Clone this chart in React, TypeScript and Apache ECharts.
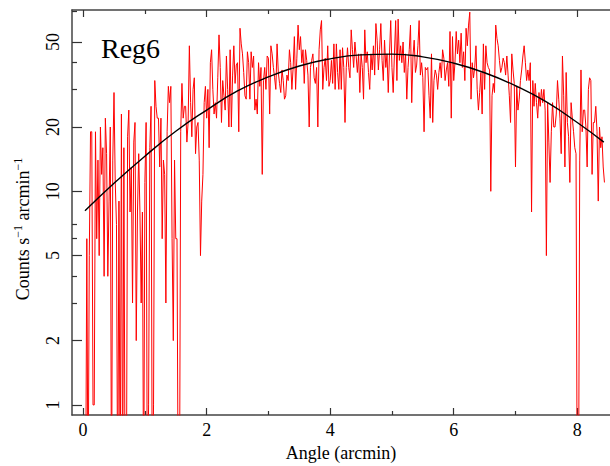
import React, { useEffect, useRef } from "react";
import * as echarts from "echarts";

// Radial profile: bin centres start at X_START and step by X_STEP (arcmin)
const X_START = 0.04;
const X_STEP = 0.02;
// Counts s^-1 arcmin^-1 read per bin (0 = empty bin, drawn off the bottom of the log axis)
const rate: number[] = [
  0, 6, 0, 5, 19, 19, 1, 1, 19, 6, 14, 5, 20, 12, 16, 4, 22, 15, 4, 9, 20, 0, 14,
  29, 11, 7, 0, 9, 0, 23, 0, 16, 0, 0, 18, 24, 8, 13, 3, 17, 21, 2, 8, 15, 8, 3, 8, 0,
  11, 21, 0, 1, 16, 25, 0, 1, 33, 25, 22, 22, 13, 22, 6, 14, 12, 3, 19, 31, 26, 31, 6, 2, 14,
  6, 6, 0, 0, 19, 32, 22, 25, 25, 17, 21, 48, 26, 18, 30, 34, 15, 20, 21, 14, 5, 9, 12, 26, 31,
  22, 30, 16, 40, 46, 30, 23, 26, 22, 34, 54, 38, 21, 33, 28, 24, 43, 30, 20, 46, 20, 35, 48, 32, 39,
  40, 19, 58, 49, 44, 36, 28, 27, 45, 40, 27, 45, 38, 43, 24, 27, 23, 40, 31, 38, 12, 33, 38, 30, 43,
  42, 23, 48, 44, 38, 34, 30, 49, 36, 32, 29, 37, 33, 27, 28, 35, 33, 46, 40, 30, 38, 53, 30, 42, 60,
  46, 53, 40, 46, 32, 46, 41, 35, 20, 38, 41, 44, 34, 32, 38, 20, 46, 57, 63, 30, 38, 42, 33, 48, 31,
  33, 41, 32, 49, 30, 49, 36, 30, 46, 30, 47, 38, 21, 38, 47, 38, 34, 57, 46, 38, 50, 43, 36, 44, 29,
  44, 38, 27, 57, 40, 45, 36, 30, 44, 37, 48, 35, 61, 51, 37, 46, 61, 41, 33, 51, 38, 44, 29, 44, 63,
  38, 29, 44, 63, 33, 64, 41, 48, 40, 50, 36, 44, 27, 38, 46, 60, 26, 43, 51, 36, 39, 48, 63, 35, 40,
  34, 19, 38, 37, 38, 28, 22, 44, 21, 33, 37, 35, 30, 36, 40, 34, 46, 42, 33, 37, 40, 31, 56, 22, 53,
  33, 40, 56, 44, 51, 40, 55, 38, 45, 33, 58, 48, 60, 69, 27, 40, 34, 38, 48, 30, 24, 29, 36, 23, 49,
  30, 48, 40, 38, 37, 10, 28, 32, 29, 60, 52, 48, 41, 36, 38, 42, 40, 35, 43, 35, 28, 21, 44, 37, 32,
  13, 31, 24, 27, 33, 37, 43, 48, 40, 33, 37, 33, 40, 8, 33, 25, 32, 26, 22, 29, 25, 30, 26, 30, 24,
  5, 26, 17, 11, 19, 26, 20, 20, 23, 33, 27, 22, 15, 43, 28, 13, 36, 21, 18, 11, 26, 22, 19, 16, 15,
  0, 0, 14, 37, 19, 24, 24, 20, 13, 30, 34, 33, 12, 21, 21, 25, 19, 9, 20, 16, 18, 13, 11,
];

// Model curve
const modelX = [0.03, 0.5, 1.0, 1.5, 2.0, 2.5, 3.0, 3.5, 4.0, 4.5, 5.0, 5.5, 6.0, 6.5, 7.0, 7.5, 8.0, 8.43];
const modelY = [8.1, 10.9, 14.6, 19.1, 24.0, 29.5, 34.3, 38.6, 41.7, 43.5, 43.9, 42.6, 39.8, 35.9, 31.2, 26.2, 21.0, 17.0];

const xMajor = [0, 2, 4, 6, 8];
const xMinor = [1, 3, 5, 7];
const yMajor = [1, 2, 5, 10, 20, 50];
const yMinor = [3, 4, 6, 7, 30, 40, 70];

const X_MIN = -0.18;
const X_MAX = 8.53;
const Y_MIN = 0.897;
const Y_MAX = 70.6;
const FONT = "Liberation Serif";

export default function App() {
  const ref = useRef<HTMLDivElement>(null);

  useEffect(() => {
    if (!ref.current) return;
    const chart = echarts.init(ref.current, undefined, { renderer: "svg" });

    const rateData = rate.map((v, i) => [
      +(X_START + i * X_STEP).toFixed(3),
      v > 0 ? v : 0.3,
    ]);
    const modelData = modelX.map((x, i) => [x, modelY[i]]);

    const axisLineStyle = { color: "#444", width: 1.5 };
    const tickStyle = { color: "#333", width: 1.2 };

    const xBase = {
      type: "value" as const,
      min: X_MIN,
      max: X_MAX,
      gridIndex: 0,
      splitLine: { show: false },
    };
    const yBase = {
      type: "log" as const,
      logBase: 10,
      min: Y_MIN,
      max: Y_MAX,
      gridIndex: 0,
      splitLine: { show: false },
    };

    chart.setOption({
      animation: false,
      backgroundColor: "#fff",
      grid: { left: 72, top: 10, right: 0, bottom: 51, outerBoundsMode: "none" },
      xAxis: [
        {
          ...xBase,
          position: "bottom",
          axisLine: { show: true, onZero: false, lineStyle: axisLineStyle },
          axisTick: { show: true, inside: true, length: 7, customValues: xMajor, lineStyle: tickStyle },
          axisLabel: {
            show: true,
            customValues: xMajor,
            fontFamily: FONT,
            fontSize: 18,
            color: "#000",
            margin: 6,
          },
          name: "Angle (arcmin)",
          nameLocation: "middle",
          nameGap: 24,
          nameTextStyle: { fontFamily: FONT, fontSize: 18, color: "#000" },
        },
        {
          ...xBase,
          position: "bottom",
          axisLine: { show: false, onZero: false },
          axisTick: { show: true, inside: true, length: 4, customValues: xMinor, lineStyle: tickStyle },
          axisLabel: { show: false },
        },
        {
          ...xBase,
          position: "top",
          axisLine: { show: true, onZero: false, lineStyle: axisLineStyle },
          axisTick: { show: true, inside: true, length: 7, customValues: xMajor, lineStyle: tickStyle },
          axisLabel: { show: false },
        },
        {
          ...xBase,
          position: "top",
          axisLine: { show: false, onZero: false },
          axisTick: { show: true, inside: true, length: 4, customValues: xMinor, lineStyle: tickStyle },
          axisLabel: { show: false },
        },
      ],
      yAxis: [
        {
          ...yBase,
          position: "left",
          axisLine: { show: true, onZero: false, lineStyle: axisLineStyle },
          axisTick: { show: true, inside: true, length: 10, customValues: yMajor, lineStyle: tickStyle },
          axisLabel: {
            show: true,
            customValues: yMajor,
            rotate: 90,
            margin: 10,
            fontFamily: FONT,
            fontSize: 18,
            color: "#000",
            formatter: (v: number) => String(Math.round(v)),
          },
        },
        {
          ...yBase,
          position: "left",
          axisLine: { show: false, onZero: false },
          axisTick: { show: true, inside: true, length: 5, customValues: yMinor, lineStyle: tickStyle },
          axisLabel: { show: false },
        },
      ],
      series: [
        {
          type: "line",
          xAxisIndex: 0,
          yAxisIndex: 0,
          data: rateData,
          showSymbol: false,
          symbol: "none",
          clip: true,
          lineStyle: { color: "#ff0000", width: 1 },
          z: 2,
        },
        {
          type: "line",
          xAxisIndex: 0,
          yAxisIndex: 0,
          data: modelData,
          smooth: true,
          showSymbol: false,
          symbol: "none",
          clip: true,
          lineStyle: { color: "#000", width: 1.4 },
          z: 3,
        },
      ],
      graphic: [
        {
          type: "text",
          left: 101,
          top: 34,
          style: {
            text: "Reg6",
            fontFamily: FONT,
            fontSize: 28,
            fill: "#000",
          },
          z: 10,
        },
        {
          type: "text",
          x: 22,
          y: 229,
          rotation: Math.PI / 2,
          style: {
            text: "{a|Counts s}{s|−1}{a| arcmin}{s|−1}",
            align: "center",
            verticalAlign: "middle",
            fill: "#000",
            rich: {
              a: { fontFamily: FONT, fontSize: 18, fill: "#000", verticalAlign: "bottom", lineHeight: 20 },
              s: { fontFamily: FONT, fontSize: 12, fill: "#000", verticalAlign: "top", lineHeight: 20 },
            },
          },
          z: 10,
        },
      ],
    });

    return () => chart.dispose();
  }, []);

  return (
    <div
      ref={ref}
      style={{ position: "absolute", left: 0, top: 0, width: 610, height: 466, background: "#fff" }}
    />
  );
}
